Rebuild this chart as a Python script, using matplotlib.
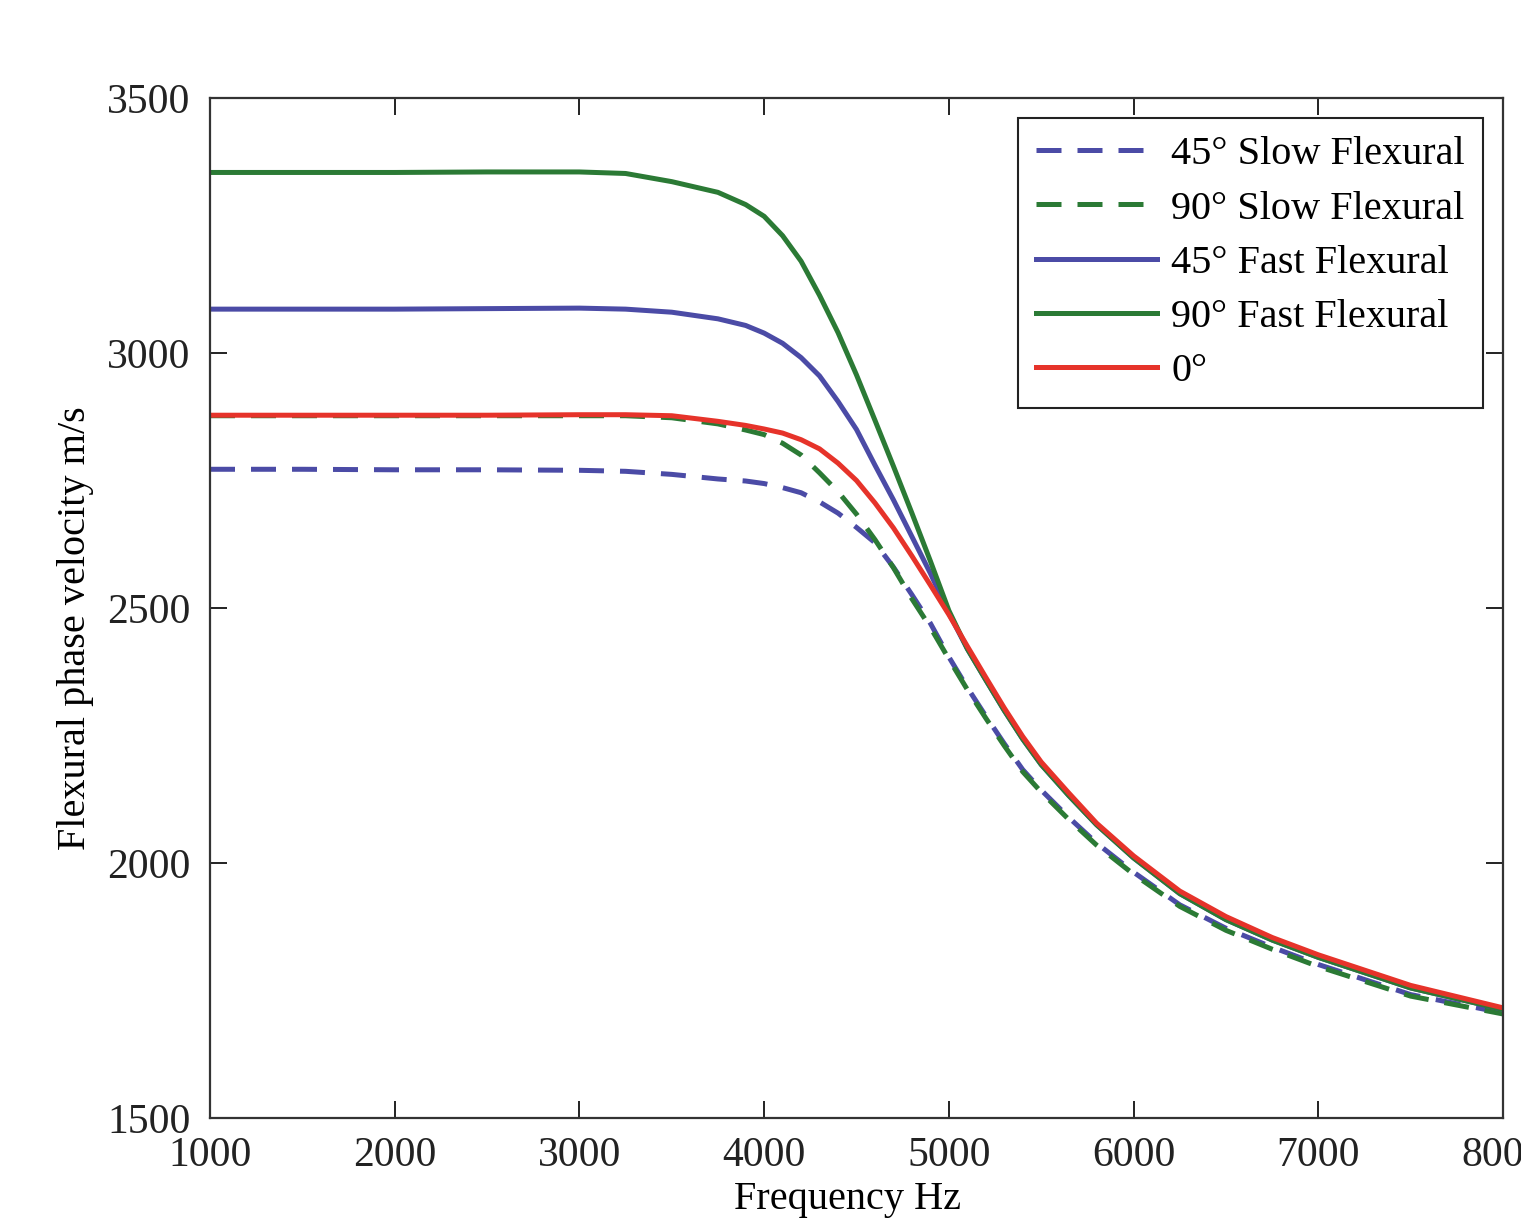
import matplotlib
matplotlib.use("Agg")
import matplotlib.pyplot as plt

plt.rcParams['font.family'] = ['Liberation Serif', 'DejaVu Serif']

freq = [1000, 1500, 2000, 2500, 3000, 3250, 3500, 3750, 3900, 4000, 4100,
        4200, 4300, 4400, 4500, 4600, 4700, 4800, 4900, 5000, 5100, 5200,
        5300, 5400, 5500, 5650, 5800, 6000, 6250, 6500, 6750, 7000, 7500, 8000]

# 45 deg slow flexural (dashed blue)
slow45 = [2772, 2772, 2771, 2771, 2770, 2768, 2762, 2753, 2749, 2744, 2736,
          2726, 2708, 2686, 2658, 2628, 2580, 2526, 2470, 2404, 2344, 2288,
          2234, 2183, 2143, 2089, 2039, 1982, 1918, 1872, 1835, 1801, 1742, 1706]
# 90 deg slow flexural (dashed green)
slow90 = [2877, 2877, 2877, 2877, 2877, 2877, 2873, 2861, 2849, 2840, 2823,
          2800, 2765, 2728, 2684, 2634, 2579, 2518, 2462, 2400, 2340, 2284,
          2230, 2179, 2139, 2085, 2035, 1978, 1915, 1868, 1831, 1797, 1739, 1704]
# 45 deg fast flexural (solid blue)
fast45 = [3086, 3086, 3086, 3087, 3088, 3086, 3080, 3067, 3054, 3039, 3019,
          2991, 2955, 2905, 2850, 2780, 2712, 2640, 2568, 2490, 2420, 2359,
          2299, 2243, 2193, 2132, 2075, 2010, 1940, 1889, 1849, 1815, 1755, 1713]
# 90 deg fast flexural (solid green)
fast90 = [3354, 3354, 3354, 3355, 3355, 3352, 3336, 3315, 3291, 3268, 3230,
          3180, 3113, 3040, 2957, 2868, 2778, 2686, 2592, 2495, 2420, 2359,
          2299, 2243, 2193, 2132, 2075, 2010, 1940, 1889, 1849, 1815, 1755, 1713]
# 0 deg (solid red)
zero = [2878, 2878, 2878, 2878, 2879, 2879, 2877, 2866, 2858, 2851, 2843,
        2830, 2812, 2784, 2750, 2706, 2657, 2602, 2545, 2487, 2425, 2364,
        2304, 2248, 2198, 2137, 2078, 2014, 1945, 1895, 1854, 1820, 1760, 1716]

labels = ['45° Slow Flexural', '90° Slow Flexural', '45° Fast Flexural',
          '90° Fast Flexural', '0°']

blue = '#4b4ba6'
green = '#2b7a35'
red = '#e6332a'

fig = plt.figure(figsize=(15.21, 12.19), dpi=100)
ax = fig.add_axes([210 / 1521, 101 / 1219, 1293 / 1521, 1020 / 1219])

lw = 3.6
ax.plot(freq, slow45, color=blue, lw=lw, dashes=(5, 3.2), label=labels[0])
ax.plot(freq, slow90, color=green, lw=lw, dashes=(5, 3.2), label=labels[1])
ax.plot(freq, fast45, color=blue, lw=lw, label=labels[2])
ax.plot(freq, fast90, color=green, lw=lw, label=labels[3])
ax.plot(freq, zero, color=red, lw=lw, label=labels[4])

ax.set_xlim(1000, 8000)
ax.set_ylim(1500, 3500)
ax.set_xticks(range(1000, 8001, 1000))
ax.set_yticks(range(1500, 3501, 500))

for s in ax.spines.values():
    s.set_linewidth(1.6)
    s.set_color('#333333')

ax.tick_params(direction='in', length=12, width=1.4, top=True, right=True,
               labelsize=30, colors='#222222')
ax.tick_params(axis='x', pad=13)
ax.tick_params(axis='y', pad=14)

ax.set_xlabel('Frequency Hz', fontsize=29)
ax.set_ylabel('Flexural phase velocity m/s', fontsize=29)
ax.xaxis.set_label_coords(0.493, -0.062)
ax.yaxis.set_label_coords(-0.09, 0.48)

leg = ax.legend(loc='upper right', fontsize=29, fancybox=False, framealpha=1,
                edgecolor='#222222', handlelength=3.0, handletextpad=0.35,
                labelspacing=0.42, borderpad=0.45, borderaxespad=0.5)
leg.get_frame().set_linewidth(1.5)

fig.savefig('out.png', dpi=100)
